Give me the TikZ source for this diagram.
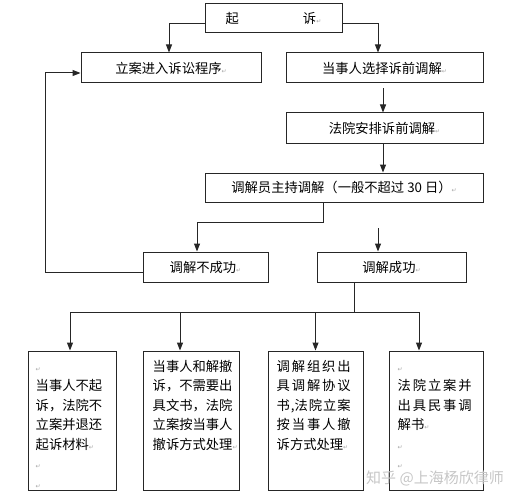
\documentclass[tikz,border=0pt]{standalone}
\usepackage{fontspec}
\newfontfamily\cjk{Noto Sans CJK SC}
\newfontfamily\symf{DejaVu Sans}
\usetikzlibrary{arrows.meta,calc}
\newcommand\rmark{{\symf\fontsize{6}{6}\selectfont\color{gray!70}↵}}
\newcommand\sline[1]{\makebox[74pt][s]{#1}}
\begin{document}
\begin{tikzpicture}[x=1pt,y=-1pt,
  font=\cjk\fontsize{13.3}{19.5}\selectfont,
  box/.style={draw=black!85, line width=1pt, inner sep=0pt},
  arr/.style={draw=black!85, line width=1pt, -{Triangle[length=8pt,width=6pt]}},
  ln/.style={draw=black!85, line width=1pt},
  txt/.style={anchor=north west, inner sep=0pt, align=left}]
\useasboundingbox (0,0) rectangle (524,500);

% top row
\node[box, minimum width=137pt, minimum height=29pt] (top) at (273.5,18.5) {起\hspace{64pt}诉\rmark};
\node[box, minimum width=180pt, minimum height=30pt] (lian) at (171,68) {立案进入诉讼程序\rmark};
\node[box, minimum width=197pt, minimum height=30pt] (dsr) at (384.5,68) {当事人选择诉前调解\rmark};
\node[box, minimum width=197pt, minimum height=30pt] (fy) at (384.5,128) {法院安排诉前调解\rmark};
\node[box, minimum width=278pt, minimum height=29pt] (tj) at (344,187.5) {调解员主持调解（一般不超过 30 日）\rmark};
\node[box, minimum width=125pt, minimum height=30pt] (bcg) at (205.5,267) {调解不成功\rmark};
\node[box, minimum width=149pt, minimum height=30pt] (cg) at (391.5,267) {调解成功\rmark};

% bottom boxes
\node[box, minimum width=88pt, minimum height=139pt] (b1) at (72,420.5) {};
\node[box, minimum width=96pt, minimum height=139pt] (b2) at (191,420.5) {};
\node[box, minimum width=95pt, minimum height=139pt] (b3) at (315.5,420.5) {};
\node[box, minimum width=94pt, minimum height=139pt] (b4) at (436,420.5) {};

\node[txt] (t1) at ([xshift=8pt,yshift=-7pt]b1.north west)
  {\strut\rmark\\\strut 当事人不起\\\strut 诉，法院不\\\strut 立案并退还\\\strut 起诉材料\rmark\\\strut\rmark\\\strut\rmark};
\node[txt] (t2) at ([xshift=10pt,yshift=-7pt]b2.north west)
  {\strut 当事人和解撤\\\strut 诉，不需要出\\\strut 具文书，法院\\\strut 立案按当事人\\\strut 撤诉方式处理\rmark};
\node[txt] (t3) at ([xshift=9pt,yshift=-7pt]b3.north west)
  {\strut\sline{调\hfill 解\hfill 组\hfill 织\hfill 出}\\
   \strut\sline{具\hfill 调\hfill 解\hfill 协\hfill 议}\\
   \strut\sline{书\hfill ,法\hfill 院\hfill 立\hfill 案}\\
   \strut\sline{按\hfill 当\hfill 事\hfill 人\hfill 撤}\\
   \strut 诉方式处理\rmark};
\node[txt] (t4) at ([xshift=9pt,yshift=-7pt]b4.north west)
  {\strut\rmark\\\strut\sline{法\hfill 院\hfill 立\hfill 案\hfill 并}\\
   \strut\sline{出\hfill 具\hfill 民\hfill 事\hfill 调}\\
   \strut 解书\rmark\\\strut\rmark\\\strut\rmark};

% watermark
\node[anchor=west, inner sep=0pt, text=gray!45, font=\cjk\fontsize{15}{15}\selectfont] (wm) at (366,478) {知乎 @上海杨欣律师};

% connectors
\draw[arr] ([yshift=-5.5pt]top.west) -| ([xshift=-2pt]lian.north);
\draw[arr] ([yshift=-5.5pt]top.east) -| ([xshift=-6.5pt]dsr.north);
\draw[arr] ([xshift=-1.5pt,yshift=-5pt]dsr.south) -- ([xshift=-1.5pt]fy.north);
\draw[arr] ([xshift=-1.5pt]fy.south) -- ([xshift=-1.5pt]fy.south |- tj.north);
\draw[arr] ([xshift=-21pt]tj.south) -- ++(0,20) -| ([xshift=-8.5pt]bcg.north);
\coordinate (free) at (378,228);
\draw[arr] (free) -- (free |- cg.north);
\draw[arr] ([yshift=-5pt]bcg.west) -- ++(-97,0) |- ([yshift=-5pt]lian.west);
\coordinate (hub) at (354,312);
\draw[ln] ([xshift=-37.5pt]cg.south) -- (hub);
\draw[arr] (hub) -| ([xshift=-2pt]b1.north);
\draw[arr] (hub) -| ([xshift=-17pt]b4.north);
\draw[arr] ([xshift=-11pt]b2.north |- hub) -- ([xshift=-11pt]b2.north);
\draw[arr] (b3.north |- hub) -- (b3.north);
\end{tikzpicture}
\end{document}
